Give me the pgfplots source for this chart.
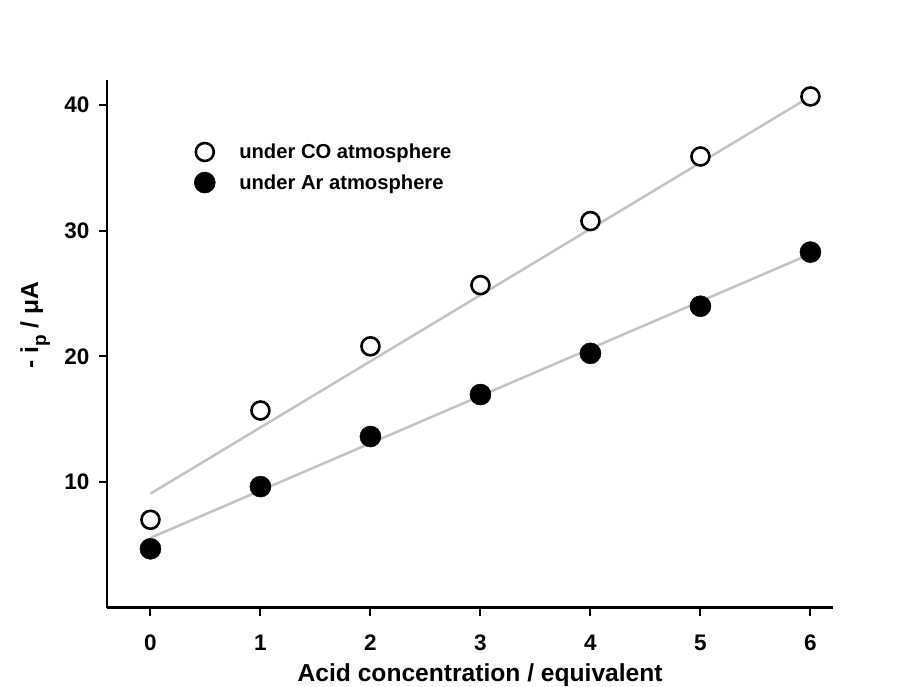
\documentclass[border=0pt]{standalone}
\usepackage{fontspec}
\setmainfont{Liberation Sans}
\usepackage{pgfplots}
\pgfplotsset{compat=1.18}
\definecolor{fitgray}{RGB}{195,195,195}

\begin{document}
\begin{tikzpicture}
% page = 903 x 686 (1px = 1pt), axis box lower left at (0,0)
\useasboundingbox (-107pt,-78.4pt) rectangle (796pt,607.6pt);
\begin{axis}[
  scale only axis,
  width=726pt, height=527.6pt,
  xmin=-0.395, xmax=6.205,
  ymin=0, ymax=42,
  axis x line*=bottom,
  axis y line*=left,
  axis line style={line width=2.5pt, -},
  tick align=outside,
  major tick length=8pt,
  tick style={line width=2pt, black},
  xtick={0,1,2,3,4,5,6},
  ytick={10,20,30,40},
  /pgf/number format/assume math mode=true,
  ticklabel style={font=\fontsize{22.5}{22.5}\selectfont\bfseries},
  xticklabel style={yshift=-16pt},
  yticklabel style={xshift=-6pt},
  xlabel={Acid concentration / equivalent},
  xlabel style={font=\fontsize{24.6}{24.6}\selectfont\bfseries,
    at={(axis description cs:0.514,-0.141)}, anchor=base},
  ylabel={- i\raisebox{-0.32em}{\fontsize{19}{19}\selectfont p} / μA},
  ylabel style={font=\fontsize{24.6}{24.6}\selectfont\bfseries,
    at={(axis description cs:-0.099,0.535)}, anchor=center, rotate=0},
  legend cell align=left,
  legend image code/.code={\draw[#1] plot coordinates {(0pt,0pt)};},
  legend style={draw=none, fill=none, inner sep=0pt,
    font=\fontsize{20.2}{20.2}\selectfont\bfseries,
    column sep=22pt, row sep=10pt,
    at={(axis description cs:0.12,0.883)}, anchor=north west},
]
% fitted lines
\addplot[fitgray, line width=2.5pt, forget plot] coordinates {(0,9.07) (6,40.69)};
\addplot[fitgray, line width=2.5pt, forget plot] coordinates {(0,5.55) (6,28.15)};
% CO atmosphere
\addplot[only marks, mark=*, mark size=9pt, mark options={draw=black, fill=white, line width=2.6pt}]
  coordinates {(0,6.99) (1,15.69) (2,20.80) (3,25.67) (4,30.77) (5,35.91) (6,40.69)};
\addlegendentry{under CO atmosphere}
% Ar atmosphere
\addplot[only marks, mark=*, mark size=10.5pt, mark options={draw=black, fill=black, line width=0.5pt}]
  coordinates {(0,4.68) (1,9.63) (2,13.62) (3,16.96) (4,20.24) (5,23.99) (6,28.30)};
\addlegendentry{under Ar atmosphere}
\end{axis}
\end{tikzpicture}
\end{document}
